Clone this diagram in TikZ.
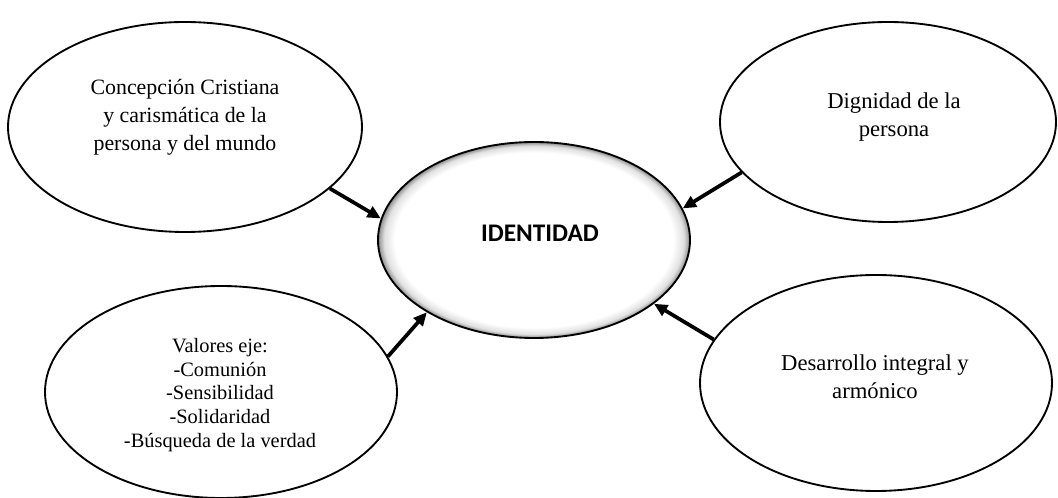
\documentclass[tikz,border=0pt]{standalone}
\usepackage{fontspec}
\setmainfont{Liberation Serif}
\newfontfamily\idfont{Carlito}
\usepackage{tikz}
\usetikzlibrary{shapes,arrows,arrows.meta,positioning,calc}
\pgfdeclareradialshading{innerglow}{\pgfpoint{0bp}{0bp}}{color(0bp)=(white); color(22.3bp)=(white); color(24bp)=(black!12); color(25bp)=(black!45); color(50bp)=(black!45)}

\begin{document}
\begin{tikzpicture}[x=0.75pt, y=-0.75pt]
  % styles
  \tikzstyle{bubble} = [ellipse, draw=black, line width=1.4pt, fill=white, inner sep=0pt]
  \tikzstyle{core} = [ellipse, draw=black, line width=1.4pt, shading=innerglow, inner sep=0pt]
  \tikzstyle{txt} = [align=center, font=\fontsize{17pt}{21pt}\selectfont]
  \tikzstyle{link} = [line width=2.8pt, -{Triangle[length=10pt,width=9pt]}]
  \useasboundingbox (0,0) rectangle (1058,498);

  % central node
  \node[core, minimum width=234pt, minimum height=147pt] (id) at (534,240) {};
  \node[font=\idfont\bfseries\fontsize{19pt}{22pt}\selectfont] (idtxt) at (540,233) {IDENTIDAD};

  % surrounding nodes
  \node[bubble, minimum width=265.5pt, minimum height=157.5pt] (tl) at (185,127) {};
  \node[txt, font=\fontsize{16.4pt}{21pt}\selectfont] (tltxt) at (185,117) {Concepción Cristiana\\y carismática de la\\persona y del mundo};

  \node[bubble, minimum width=252pt, minimum height=150pt] (tr) at (888,122) {};
  \node[txt] (trtxt) at (894,117) {Dignidad de la\\persona};

  \node[bubble, minimum width=264pt, minimum height=159pt] (bl) at (221,392) {};
  \node[txt, font=\fontsize{15.3pt}{17.8pt}\selectfont] (bltxt) at (220,395) {Valores eje:\\-Comunión\\-Sensibilidad\\-Solidaridad\\-Búsqueda de la verdad};

  \node[bubble, minimum width=264pt, minimum height=162pt] (br) at (876,383) {};
  \node[txt] (brtxt) at (875,377) {Desarrollo integral y\\armónico};

  % connectors
  \draw[link] (tl.-23) -- (id.172);
  \draw[link] (tr.199) -- (id.12);
  \draw[link] (bl.12) -- (id.214);
  \draw[link] (br.165) -- (id.-28);
\end{tikzpicture}
\end{document}
